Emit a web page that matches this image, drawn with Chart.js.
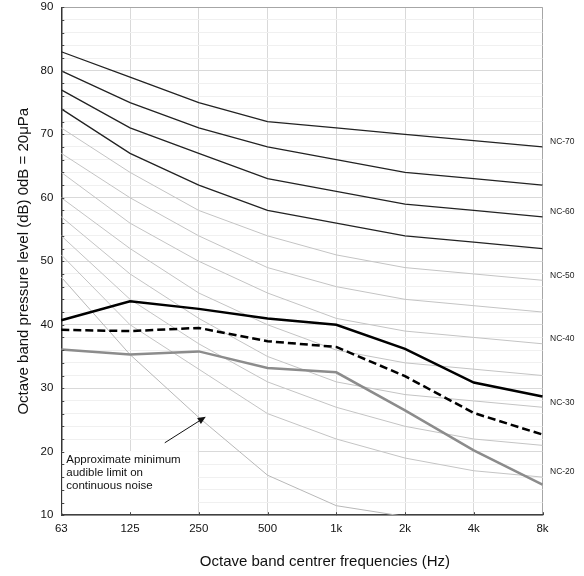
<!DOCTYPE html>
<html>
<head>
<meta charset="utf-8">
<script src="https://cdn.jsdelivr.net/npm/chart.js@4.4.0/dist/chart.umd.min.js"></script>
<style>
  html, body { margin: 0; padding: 0; background: #fff; }
  #wrap { width: 584px; height: 576px; position: relative; }
</style>
</head>
<body>
<div id="wrap"><canvas id="ncChart"></canvas></div>
<script>
// Octave band centre frequencies
const frequencies = ["63", "125", "250", "500", "1k", "2k", "4k", "8k"];

// NC curves (dB)
const nc70 = [83, 79, 75, 72, 71, 70, 69, 68];
const nc65 = [80, 75, 71, 68, 66, 64, 63, 62];
const nc60 = [77, 71, 67, 63, 61, 59, 58, 57];
const nc55 = [74, 67, 62, 58, 56, 54, 53, 52];
const nc50 = [71, 64, 58, 54, 51, 49, 48, 47];
const nc45 = [67, 60, 54, 49, 46, 44, 43, 42];
const nc40 = [64, 56, 50, 45, 41, 39, 38, 37];
const nc35 = [60, 52, 45, 40, 36, 34, 33, 32];
const nc30 = [57, 48, 41, 35, 31, 29, 28, 27];
const nc25 = [54, 44, 37, 31, 27, 24, 22, 21];
const nc20 = [51, 40, 33, 26, 22, 19, 17, 16];

// approximate minimum audible limit
const hearingLimit = [47.5, 35.3, 25.4, 16.3, 11.5, 9.8, null, null];

// measured spectra
const measuredSolid = [40.7, 43.7, 42.5, 41.0, 40.0, 36.2, 30.9, 28.7];
const measuredDashed = [39.2, 39.0, 39.5, 37.4, 36.5, 31.9, 26.1, 22.7];
const measuredGrey = [36.1, 35.3, 35.8, 33.2, 32.5, 26.5, 20.2, 14.8];

// labels at the right hand side
const ncLabels = ["NC-70", "NC-60", "NC-50", "NC-40", "NC-30", "NC-20"];
const ncLabelCurves = [nc70, nc60, nc50, nc40, nc30, nc20];

const FONT = "'Liberation Sans', Arial, sans-serif";

function line(data, color, width, dash) {
  return {
    data: data,
    borderColor: color,
    borderWidth: width,
    borderDash: dash || [],
    pointRadius: 0,
    pointHoverRadius: 0,
    tension: 0,
    fill: false,
  };
}

// extra drawing: white note box, arrow, NC labels, inner ticks, x title
const ncDecor = {
  id: "ncDecor",
  beforeDatasetsDraw(chart) {
    const { ctx, chartArea, scales } = chart;
    const x = scales.x, y = scales.y;
    ctx.save();
    ctx.fillStyle = "#fff";
    const top = y.getPixelForValue(20.1);
    ctx.fillRect(chartArea.left + 1, top, x.getPixelForValue(2) - chartArea.left - 2, chartArea.bottom - top - 2);
    ctx.restore();
  },
  afterDatasetsDraw(chart) {
    const { ctx, chartArea, scales } = chart;
    const x = scales.x, y = scales.y;
    ctx.save();

    // inner tick marks
    ctx.strokeStyle = "#444";
    ctx.lineWidth = 1;
    ctx.beginPath();
    y.ticks.forEach(function (t) {
      const py = Math.round(y.getPixelForValue(t.value)) + 0.5;
      ctx.moveTo(chartArea.left, py);
      ctx.lineTo(chartArea.left + 3, py);
    });
    frequencies.forEach(function (f, i) {
      const px = Math.round(x.getPixelForValue(i)) + 0.5;
      ctx.moveTo(px, chartArea.bottom);
      ctx.lineTo(px, chartArea.bottom - 3);
    });
    ctx.stroke();

    // note text
    ctx.fillStyle = "#111";
    ctx.font = "11.5px " + FONT;
    ctx.textBaseline = "middle";
    ctx.textAlign = "left";
    const tx = chartArea.left + 5;
    const ty = y.getPixelForValue(20.1) + 9;
    ["Approximate minimum", "audible limit on", "continuous noise"].forEach(function (s, i) {
      ctx.fillText(s, tx, ty + i * 12.7);
    });

    // arrow
    const hx = x.getPixelForValue(2) + 7;
    const hy = y.getPixelForValue(25.5);
    const sx = hx - 41, sy = hy + 26;
    const ang = Math.atan2(hy - sy, hx - sx);
    ctx.strokeStyle = "#111";
    ctx.lineWidth = 1;
    ctx.beginPath();
    ctx.moveTo(sx, sy);
    ctx.lineTo(hx - 6 * Math.cos(ang), hy - 6 * Math.sin(ang));
    ctx.stroke();
    ctx.fillStyle = "#111";
    ctx.beginPath();
    ctx.moveTo(hx, hy);
    ctx.lineTo(hx - 8 * Math.cos(ang) + 3.5 * Math.sin(ang), hy - 8 * Math.sin(ang) - 3.5 * Math.cos(ang));
    ctx.lineTo(hx - 8 * Math.cos(ang) - 3.5 * Math.sin(ang), hy - 8 * Math.sin(ang) + 3.5 * Math.cos(ang));
    ctx.closePath();
    ctx.fill();

    // NC labels
    ctx.font = "8.5px " + FONT;
    ctx.fillStyle = "#222";
    ncLabels.forEach(function (lab, i) {
      const c = ncLabelCurves[i];
      ctx.fillText(lab, chartArea.right + 7.5, y.getPixelForValue(c[c.length - 1]) - 5);
    });

    // x axis title
    ctx.font = "15px " + FONT;
    ctx.textAlign = "center";
    ctx.fillStyle = "#111";
    ctx.fillText("Octave band centrer frequencies (Hz)", (chartArea.left + chartArea.right) / 2 + 23, chartArea.bottom + 47);
    ctx.restore();
  },
};

const ctx = document.getElementById("ncChart").getContext("2d");
new Chart(ctx, {
  type: "line",
  data: {
    labels: frequencies,
    datasets: [
      line(measuredSolid, "#000", 2.5),
      line(measuredDashed, "#000", 2.5, [8, 4]),
      line(measuredGrey, "#8c8c8c", 2.5),
      line(nc70, "#222", 1.3),
      line(nc65, "#222", 1.3),
      line(nc60, "#222", 1.3),
      line(nc55, "#222", 1.3),
      line(nc50, "#c4c4c4", 1),
      line(nc45, "#c4c4c4", 1),
      line(nc40, "#c4c4c4", 1),
      line(nc35, "#c4c4c4", 1),
      line(nc30, "#c4c4c4", 1),
      line(nc25, "#c4c4c4", 1),
      line(nc20, "#c4c4c4", 1),
      line(hearingLimit, "#b8b8b8", 1),
    ],
  },
  options: {
    responsive: true,
    maintainAspectRatio: false,
    animation: false,
    events: [],
    layout: { padding: { left: 9.5, right: 41.5, top: 7.3, bottom: 33 } },
    plugins: {
      legend: { display: false },
      tooltip: { enabled: false },
    },
    scales: {
      x: {
        offset: false,
        grid: {
          color: function (c) { return c.index === frequencies.length - 1 ? "#a6a6a6" : "#d9d9d9"; },
          drawTicks: false,
        },
        border: { color: "#404040", width: 1.5 },
        ticks: { color: "#111", font: { family: FONT, size: 11.5 }, padding: 7, maxRotation: 0 },
      },
      y: {
        min: 10,
        max: 90,
        afterFit: function (scale) {
          // the top label may overhang; keep plot top where the reference has it
          scale.paddingTop = 0;
          scale.paddingBottom = 0;
        },
        grid: {
          color: function (c) {
            const v = c.tick.value;
            if (v === 90) return "#a6a6a6";
            return v % 10 === 0 ? "#d9d9d9" : "#f0f0f0";
          },
          drawTicks: false,
        },
        border: { color: "#333", width: 1.5 },
        ticks: {
          stepSize: 2,
          autoSkip: false,
          padding: 8,
          color: "#111",
          font: { family: FONT, size: 11.5 },
          callback: function (v) { return v % 10 === 0 ? v : ""; },
        },
        title: {
          display: true,
          text: "Octave band pressure level (dB) 0dB = 20\u03bcPa",
          color: "#111",
          font: { family: FONT, size: 15 },
          padding: { top: 5, bottom: 0 },
        },
      },
    },
  },
  plugins: [ncDecor],
});
</script>
</body>
</html>
